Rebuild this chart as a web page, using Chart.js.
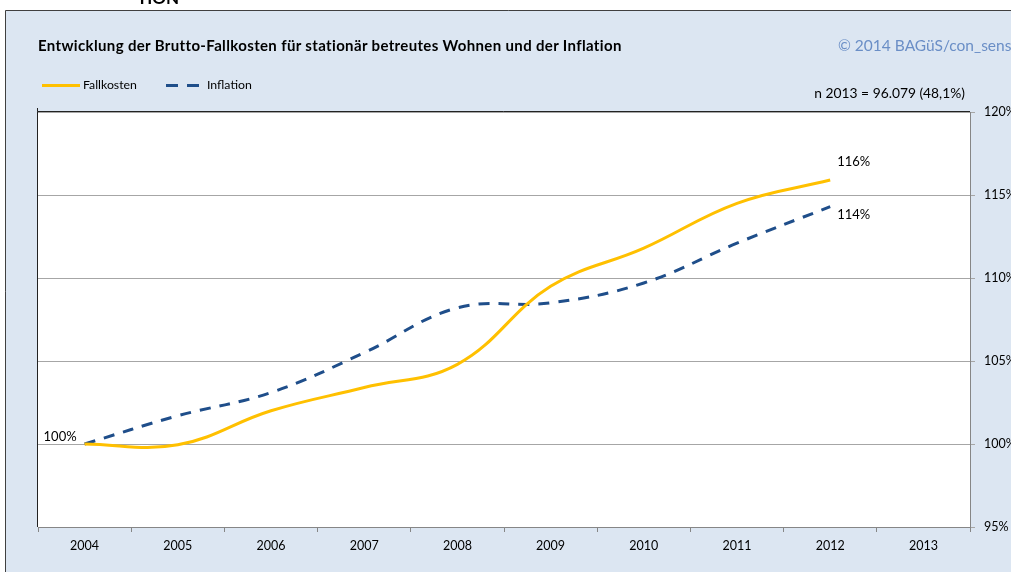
<!DOCTYPE html>
<html><head><meta charset="utf-8">
<script src="https://cdn.jsdelivr.net/npm/chart.js@4/dist/chart.umd.min.js"></script>
<style>
html,body{margin:0;padding:0;background:#fff;width:1011px;height:572px;overflow:hidden;font-family:Lato,"Open Sans",sans-serif;}
#wrap{position:absolute;left:0;top:0;width:1011px;height:572px;overflow:hidden;}
canvas{position:absolute;left:0;top:0;}
.t{position:absolute;white-space:nowrap;color:#000;}
</style></head><body>
<div id="wrap"><canvas id="c" width="1011" height="572"></canvas>
<div class="t" style="left:137px;top:-13px;font-weight:bold;font-size:17px;">TION</div>
<div class="t" id="title" style="left:38px;top:36px;font-weight:bold;font-size:15px;letter-spacing:0.35px;">Entwicklung der Brutto-Fallkosten für stationär betreutes Wohnen und der Inflation</div>
<div class="t" style="left:838px;top:36px;font-size:15.5px;color:#6a8ec6;">© 2014 BAGüS/con_sens</div>
<div class="t" style="right:46px;top:84px;font-size:13.8px;">n 2013 = 96.079 (48,1%)</div>
<div style="position:absolute;left:42px;top:84px;width:38px;height:3px;background:#ffc000;"></div>
<div class="t" style="left:83px;top:77px;font-size:12.3px;">Fallkosten</div>
<div style="position:absolute;left:166px;top:84px;width:12px;height:3px;background:#1f4e8a;"></div>
<div style="position:absolute;left:187px;top:84px;width:12px;height:3px;background:#1f4e8a;"></div>
<div class="t" style="left:207px;top:77px;font-size:12.3px;">Inflation</div>
</div>
<script>
const years = ['2004','2005','2006','2007','2008','2009','2010','2011','2012','2013'];
const fallkosten = [100, 99.95, 102.0, 103.4, 104.8, 109.5, 111.8, 114.5, 115.9, null];
const inflation = [100, 101.7, 103.1, 105.5, 108.2, 108.5, 109.7, 112.1, 114.3, null];
const yTicks = [95, 100, 105, 110, 115, 120];
const pointLabels = [
  {series: 0, index: 0, text: '100%', align: 'right', dx: -8, dy: -7},
  {series: 0, index: 8, text: '116%', align: 'left', dx: 7, dy: -18},
  {series: 1, index: 8, text: '114%', align: 'left', dx: 7, dy: 8}
];

const bgPlugin = {
  id: 'bg',
  beforeDraw(chart) {
    const ctx = chart.ctx, a = chart.chartArea;
    ctx.save();
    ctx.fillStyle = '#ffffff';
    ctx.fillRect(0, 0, chart.width, chart.height);
    ctx.fillStyle = '#dce6f2';
    ctx.fillRect(5, 10, chart.width, chart.height);
    ctx.strokeStyle = '#404040';
    ctx.lineWidth = 1;
    ctx.beginPath();
    ctx.moveTo(5.5, chart.height); ctx.lineTo(5.5, 10.5); ctx.lineTo(chart.width, 10.5);
    ctx.stroke();
    ctx.fillStyle = '#ffffff';
    ctx.fillRect(a.left, a.top, a.right - a.left, a.bottom - a.top);
    ctx.restore();
  },
  afterDatasetsDraw(chart) {
    const ctx = chart.ctx, a = chart.chartArea;
    ctx.save();
    ctx.strokeStyle = '#222';
    ctx.lineWidth = 1;
    ctx.beginPath();
    ctx.moveTo(a.left - 0.5, a.bottom); ctx.lineTo(a.left - 0.5, a.top - 0.5); ctx.lineTo(a.right, a.top - 0.5);
    ctx.moveTo(a.left - 0.5, a.top - 0.5); ctx.lineTo(a.left - 0.5, a.top - 4);
    ctx.stroke();
    ctx.font = '13px Lato';
    ctx.fillStyle = '#000';
    ctx.textBaseline = 'middle';
    pointLabels.forEach(l => {
      const el = chart.getDatasetMeta(l.series).data[l.index];
      ctx.textAlign = l.align;
      ctx.fillText(l.text, el.x + l.dx, el.y + l.dy);
    });
    ctx.restore();
  }
};

new Chart(document.getElementById('c'), {
  type: 'line',
  data: {
    labels: years,
    datasets: [
      {label: 'Fallkosten', data: fallkosten, borderColor: '#ffc000', borderWidth: 3, tension: 0.4, pointRadius: 0, fill: false},
      {label: 'Inflation', data: inflation, borderColor: '#1f4e8a', borderWidth: 3, borderDash: [11, 9], tension: 0.4, pointRadius: 0, fill: false}
    ]
  },
  options: {
    responsive: false,
    animation: false,
    layout: {padding: {left: 38, top: 112, right: 0, bottom: 0}},
    plugins: {legend: {display: false}, title: {display: false}, tooltip: {enabled: false}},
    scales: {
      x: {
        type: 'category',
        offset: true,
        grid: {offset: true, drawOnChartArea: false, drawTicks: true, tickLength: 5, color: '#868686'},
        border: {color: '#868686', width: 1},
        ticks: {color: '#000', font: {family: 'Lato', size: 12.5}, padding: 6, maxRotation: 0},
        afterFit(s) { s.height = 45; }
      },
      y: {
        position: 'right',
        min: 95, max: 120,
        afterBuildTicks(s) { s.ticks = yTicks.map(v => ({value: v})); },
        grid: {color: '#a6a6a6', drawTicks: true, tickLength: 5},
        border: {color: '#868686'},
        ticks: {color: '#000', font: {family: 'Lato', size: 12.5}, padding: 9, callback: v => v + '%'},
        afterFit(s) { s.width = 41; }
      }
    }
  },
  plugins: [bgPlugin]
});
</script>
</body></html>
